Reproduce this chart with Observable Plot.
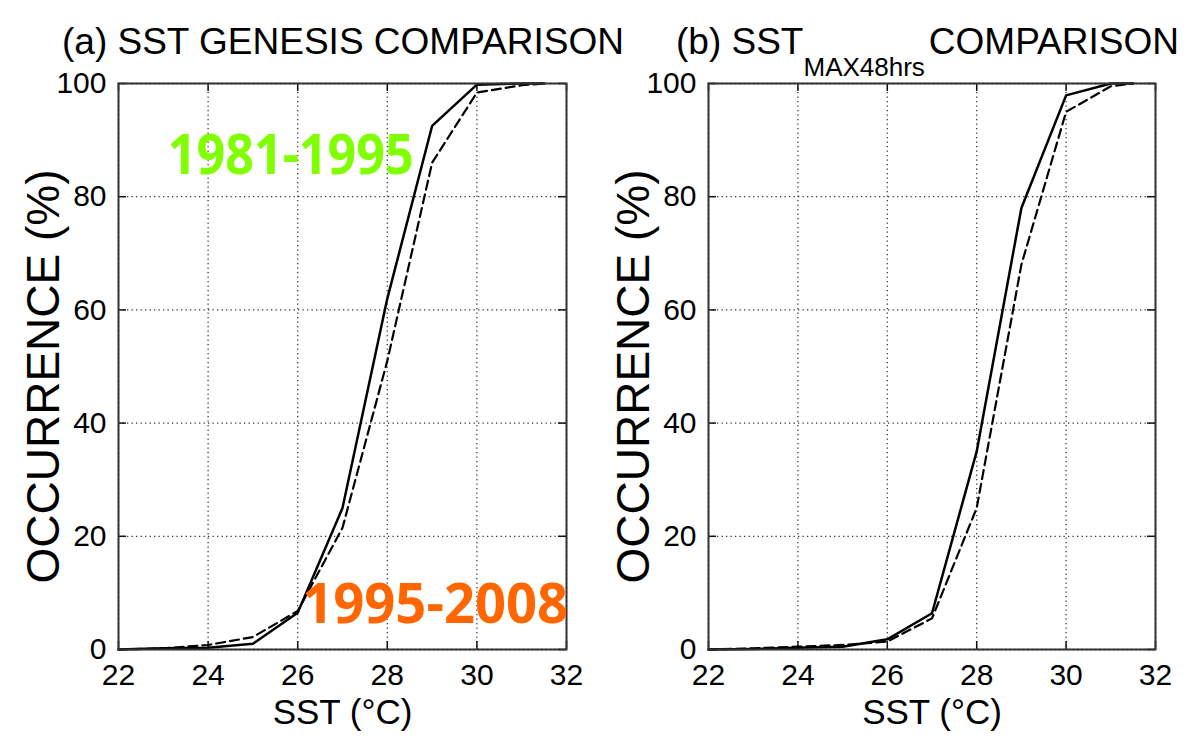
<!DOCTYPE html>
<html><head><meta charset="utf-8">
<script src="https://cdn.jsdelivr.net/npm/d3@7"></script>
<script src="https://cdn.jsdelivr.net/npm/@observablehq/plot@0.6"></script>
<style>
body{margin:0;background:#fff;}
#wrap{position:relative;width:1189px;height:744px;overflow:hidden;font-family:"Liberation Sans",Arial,sans-serif;background:#fff;}
.panel{position:absolute;top:0;}
.title{position:absolute;font-size:37px;line-height:1;color:#000;white-space:nowrap;top:23px;}
.title .sub{font-size:26px;position:relative;top:22px;margin-right:4px;}
</style></head><body><div id="wrap">
<div class="title" style="left:62px">(a) SST GENESIS COMPARISON</div>
<div class="title" style="left:676px">(b) SST<span class="sub">MAX48hrs</span>COMPARISON</div>
</div>
<script>
// SST bins (°C)
const sst = [22, 23, 24, 25, 26, 27, 28, 29, 30, 31, 31.5];
// (a) genesis: solid and dashed cumulative occurrence (%)
const genesisSolid  = [0, 0.2, 0.3, 1.0, 6.5, 25, 62, 92.5, 99.8, 100, 100];
const genesisDashed = [0, 0.2, 0.8, 2.2, 6.8, 21.5, 51, 86, 98.4, 99.7, 100];
// (b) SST max 48 hrs
const maxSolid  = [0, 0.1, 0.3, 0.5, 1.8, 6.4, 35, 78, 97.9, 100, 100];
const maxDashed = [0, 0.2, 0.5, 0.8, 1.4, 5.5, 25, 68, 95, 99.5, 100];
// tick values
const xTicks = [22, 24, 26, 28, 30, 32];
const yTicks = [0, 20, 40, 60, 80, 100];
// period annotations on panel (a)
const periodLabels = ["1981-1995", "1995-2008"];
const periodSst = [23.1, 26.1];
const periodOcc = [84, 4.6];
const periodColors = ["#80ff00", "#ff6600"];
const periodLengths = [246, 266];

const H = 744, MT = 83, MB = 95;

function panel(solid, dashed, width, ml, mr, annotate) {
  const rows = sst.map((x, i) => ({x, s: solid[i], d: dashed[i]}));
  const pw = width - ml - mr, ph = H - MT - MB;
  const gridStyle = {stroke: "#222", strokeOpacity: 0.9, strokeWidth: 1.3, strokeDasharray: "1.3,3.2"};
  const tickStyle = {stroke: "#111", strokeWidth: 1.5};
  const marks = [
    Plot.gridX(xTicks, gridStyle),
    Plot.gridY(yTicks, gridStyle),
    Plot.tickX(xTicks, {x: d => d, insetTop: ph - 8, ...tickStyle}),
    Plot.tickX(xTicks, {x: d => d, insetBottom: ph - 8, ...tickStyle}),
    Plot.tickY(yTicks, {y: d => d, insetRight: pw - 8, ...tickStyle}),
    Plot.tickY(yTicks, {y: d => d, insetLeft: pw - 8, ...tickStyle}),
    Plot.line(rows, {x: "x", y: "d", stroke: "#000", strokeWidth: 2.2, strokeDasharray: "9,5"}),
    Plot.line(rows, {x: "x", y: "s", stroke: "#000", strokeWidth: 2.5}),
    Plot.frame({stroke: "#333", strokeWidth: 2}),
    Plot.axisX({ticks: xTicks, tickSize: 0, tickPadding: 14, fontSize: 30, label: null, tickFormat: d => String(d)}),
    Plot.axisY({ticks: yTicks, tickSize: 0, tickPadding: 12, fontSize: 30, label: null, tickFormat: d => String(d)}),
    Plot.text(["SST (°C)"], {frameAnchor: "bottom", dy: 74, fontSize: 35, fill: "#000"}),
    Plot.text(["OCCURRENCE (%)"], {frameAnchor: "left", textAnchor: "middle", lineAnchor: "middle", rotate: -90, dx: -74, dy: 10, fontSize: 46, fill: "#000"})
  ];
  if (annotate) {
    marks.push(Plot.text(periodLabels, {
      x: (d, i) => periodSst[i], y: (d, i) => periodOcc[i],
      text: d => d, fill: (d, i) => periodColors[i],
      textAnchor: "start", lineAnchor: "bottom", fontSize: 56, fontWeight: "bold",
      fontFamily: "Open Sans"
    }));
  }
  const svg = Plot.plot({
    width, height: H, marginLeft: ml, marginRight: mr, marginTop: MT, marginBottom: MB,
    x: {domain: [22, 32]}, y: {domain: [0, 100]},
    style: {fontFamily: "'Liberation Sans', Arial, sans-serif", color: "#000", background: "transparent", overflow: "visible"},
    marks
  });
  d3.select(svg).selectAll("text").each(function() {
    const k = periodLabels.indexOf(this.textContent);
    if (k >= 0) { this.setAttribute("textLength", periodLengths[k]); this.setAttribute("lengthAdjust", "spacingAndGlyphs"); }
  });
  return svg;
}

const wrap = document.getElementById("wrap");
const a = panel(genesisSolid, genesisDashed, 594, 118, 28, true);
a.classList.add("panel"); a.style.left = "0px";
const b = panel(maxSolid, maxDashed, 595, 114, 34, false);
b.classList.add("panel"); b.style.left = "594px";
wrap.appendChild(a); wrap.appendChild(b);
</script>
</body></html>
